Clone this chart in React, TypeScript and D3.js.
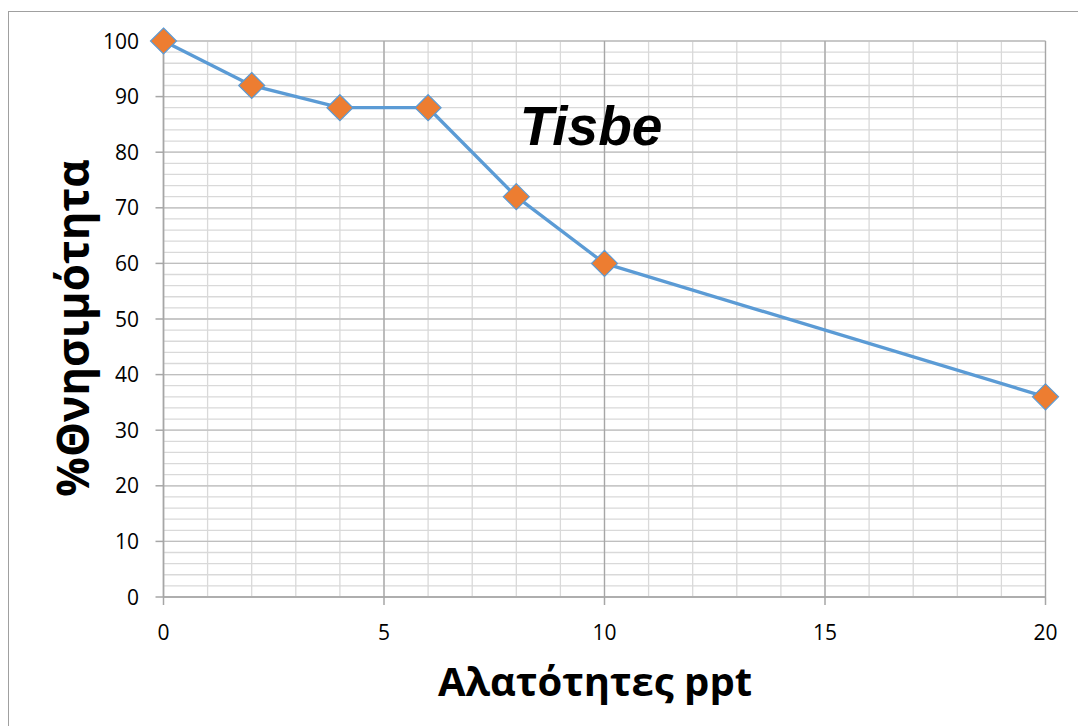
import React from "react";
import * as d3 from "d3";

const salinity = [0, 2, 4, 6, 8, 10, 20];
const mortality = [100, 92, 88, 88, 72, 60, 36];
const xTicks = [0, 5, 10, 15, 20];
const yTicks = [0, 10, 20, 30, 40, 50, 60, 70, 80, 90, 100];
const xMinor = d3.range(0, 21, 1);
const yMinor = d3.range(0, 101, 2);
const title = "Tisbe";
const xTitle = "Αλατότητες ppt";
const yTitle = "%Θνησιμότητα";

export default function App() {
  const W = 1078, H = 726;
  const x = d3.scaleLinear().domain([0, 20]).range([163.5, 1045.5]);
  const y = d3.scaleLinear().domain([0, 100]).range([597, 41]);
  const line = d3.line<number>().x((_, i) => x(salinity[i])).y((d) => y(d));
  const tickFont = "'Open Sans', 'Noto Sans', sans-serif";
  const titleFont = "'Open Sans', 'Noto Sans', sans-serif";
  const s = 13;
  return (
    <svg width={W} height={H} style={{ position: "absolute", left: 0, top: 0 }}>
      <rect x={0} y={0} width={W} height={H} fill="#fff" />
      <rect x={8.5} y={11.5} width={1080} height={730} fill="#fff" stroke="#a0a0a0" strokeWidth={1} />
      {yMinor.map((v) => (
        <line key={"ym" + v} x1={x(0)} x2={x(20)} y1={y(v)} y2={y(v)} stroke="#d9d9d9" strokeWidth={1.3} />
      ))}
      {xMinor.map((v) => (
        <line key={"xm" + v} x1={x(v)} x2={x(v)} y1={y(0)} y2={y(100)} stroke="#d9d9d9" strokeWidth={1.3} />
      ))}
      {yTicks.map((v) => (
        <line key={"yM" + v} x1={x(0)} x2={x(20)} y1={y(v)} y2={y(v)} stroke="#bfbfbf" strokeWidth={1.3} />
      ))}
      {xTicks.map((v) => (
        <line key={"xM" + v} x1={x(v)} x2={x(v)} y1={y(0)} y2={y(100)} stroke="#a6a6a6" strokeWidth={1.3} />
      ))}
      <line x1={x(0)} x2={x(0)} y1={y(0)} y2={y(100)} stroke="#a6a6a6" strokeWidth={1.5} />
      <line x1={x(0)} x2={x(20)} y1={y(0)} y2={y(0)} stroke="#a6a6a6" strokeWidth={1.5} />
      {yTicks.map((v) => (
        <g key={"yt" + v}>
          <line x1={x(0) - 8} x2={x(0)} y1={y(v)} y2={y(v)} stroke="#a6a6a6" strokeWidth={1.5} />
          <text x={139} y={y(v)} dy="0.36em" textAnchor="end" fontFamily={tickFont} fontSize={21} fill="#000">
            {v}
          </text>
        </g>
      ))}
      {xTicks.map((v) => (
        <g key={"xt" + v}>
          <line x1={x(v)} x2={x(v)} y1={y(0)} y2={y(0) + 8} stroke="#a6a6a6" strokeWidth={1.5} />
          <text x={x(v)} y={632} dy="0.36em" textAnchor="middle" fontFamily={tickFont} fontSize={21} fill="#000">
            {v}
          </text>
        </g>
      ))}
      <path d={line(mortality) || ""} fill="none" stroke="#5B9BD5" strokeWidth={3.3} strokeLinejoin="round" />
      {mortality.map((v, i) => {
        const cx = x(salinity[i]);
        const cy = y(v);
        return (
          <path
            key={"m" + i}
            d={`M${cx},${cy - s}L${cx + s},${cy}L${cx},${cy + s}L${cx - s},${cy}Z`}
            fill="#ED7D31"
            stroke="#5B9BD5"
            strokeWidth={1.2}
          />
        );
      })}
      <text x={591} y={145} textAnchor="middle" fontFamily="'Liberation Sans', Arial, sans-serif" fontWeight="bold" fontStyle="italic" fontSize={55} fill="#000">
        {title}
      </text>
      <text x={595} y={696} textAnchor="middle" fontFamily={titleFont} fontWeight="bold" fontSize={40} fill="#000">
        {xTitle}
      </text>
      <text transform={`translate(89,328) rotate(-90)`} textAnchor="middle" fontFamily={titleFont} fontWeight="bold" fontSize={44} fill="#000">
        {yTitle}
      </text>
    </svg>
  );
}
